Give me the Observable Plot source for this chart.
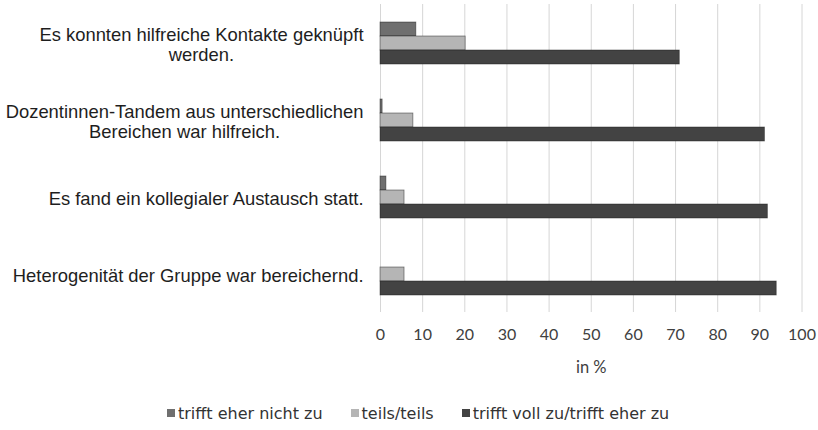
<!DOCTYPE html>
<html>
<head>
<meta charset="utf-8">
<script src="https://cdn.jsdelivr.net/npm/d3@7"></script>
<script src="https://cdn.jsdelivr.net/npm/@observablehq/plot@0.6"></script>
<style>
  body { margin: 0; background: #fff; width: 818px; }
  .lg-swatches-wrap { justify-content: flex-start; padding-left: 167px; margin-top: 15px; min-height: 26px; }
  .lg-swatches { font-family: "DejaVu Sans", sans-serif; font-size: 16px; color: #333; }
  .lg-swatch { margin-right: 28px !important; }
  .lg-swatch > svg { margin-right: 3px !important; }
</style>
</head>
<body>
<div id="chart"></div>
<script>
const questions = [
  "Es konnten hilfreiche Kontakte geknüpft\nwerden.",
  "Dozentinnen-Tandem aus unterschiedlichen\nBereichen war hilfreich.",
  "Es fand ein kollegialer Austausch statt.",
  "Heterogenität der Gruppe war bereichernd."
];
const series = ["trifft eher nicht zu", "teils/teils", "trifft voll zu/trifft eher zu"];
const nichtZu = [8.5, 0.5, 1.4, 0];
const teils = [20.2, 7.8, 5.7, 5.7];
const vollZu = [71.0, 91.2, 91.9, 94.0];
const xTicks = [0, 10, 20, 30, 40, 50, 60, 70, 80, 90, 100];
const xLabel = "in %";
const xLabelAt = 50;
const colors = ["#6f6f6f", "#b5b5b5", "#434343"];

const seriesValues = [nichtZu, teils, vollZu];
const data = [];
questions.forEach((q, i) => {
  series.forEach((s, j) => {
    data.push({question: q, series: s, value: seriesValues[j][i]});
  });
});

const plot = Plot.plot({
  width: 818,
  height: 385,
  marginTop: 3,
  marginBottom: 72,
  marginLeft: 380,
  marginRight: 16.5,
  style: {background: "#fff", overflow: "visible"},
  x: {domain: [0, 100]},
  y: {domain: series, axis: null, paddingInner: 0, paddingOuter: 1.14},
  fy: {domain: questions, padding: 0, axis: null},
  color: {domain: series, range: colors},
  marks: [
    Plot.gridX(xTicks, {stroke: "#d6d6d6", strokeOpacity: 1, strokeWidth: 1}),
    Plot.barX(data.filter(d => d.value > 0), {
      x: "value", y: "series", fy: "question", fill: "series",
      stroke: "#1a1a1a", strokeOpacity: 0.55, strokeWidth: 0.8
    }),
    Plot.axisFy({
      anchor: "left", label: null, tickSize: 0, tickPadding: 17,
      fontSize: 18.4, fontFamily: "Liberation Sans, Arial, sans-serif",
      fill: "#1e1e1e", lineHeight: 1.1, dy: 1.5
    }),
    Plot.axisX({
      ticks: xTicks, tickSize: 0, tickPadding: 16,
      fontSize: 16, fontFamily: "Lato, sans-serif", fill: "#404040",
      label: null
    }),
    // axis title "in %" centred under the x scale
    Plot.axisX({
      ticks: [xLabelAt], tickFormat: () => xLabel, tickSize: 0, tickPadding: 49,
      fontSize: 16.5, fontFamily: "Lato, sans-serif", fill: "#404040",
      label: null
    })
  ]
});

document.getElementById("chart").appendChild(plot);

// center multi-line category labels on their own block, keeping the right edge
plot.querySelectorAll('g[aria-label="fy-axis tick label"] text').forEach(el => {
  const w = el.getBBox().width;
  el.setAttribute("text-anchor", "middle");
  const t = el.getAttribute("transform") || "";
  el.setAttribute("transform", t + ` translate(${-w / 2},0)`);
});

const legend = plot.legend("color", {swatchSize: 8, className: "lg"});
document.body.appendChild(legend);
</script>
</body>
</html>
